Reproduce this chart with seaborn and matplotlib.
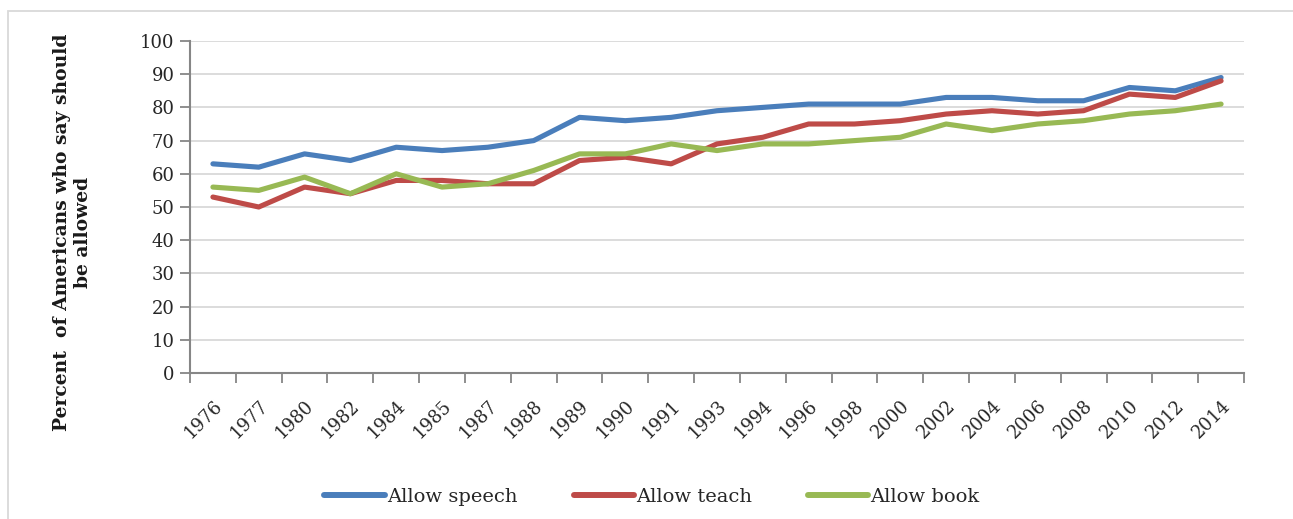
import matplotlib
matplotlib.use("Agg")
import matplotlib.pyplot as plt
from matplotlib.patches import Rectangle
import seaborn as sns
import pandas as pd
import numpy as np

years = ["1976", "1977", "1980", "1982", "1984", "1985", "1987", "1988", "1989", "1990",
         "1991", "1993", "1994", "1996", "1998", "2000", "2002", "2004", "2006", "2008",
         "2010", "2012", "2014"]
allow_speech = [63, 62, 66, 64, 68, 67, 68, 70, 77, 76, 77, 79, 80, 81, 81, 81, 83, 83, 82, 82, 86, 85, 89]
allow_teach = [53, 50, 56, 54, 58, 58, 57, 57, 64, 65, 63, 69, 71, 75, 75, 76, 78, 79, 78, 79, 84, 83, 88]
allow_book = [56, 55, 59, 54, 60, 56, 57, 61, 66, 66, 69, 67, 69, 69, 70, 71, 75, 73, 75, 76, 78, 79, 81]
series_names = ["Allow speech", "Allow teach", "Allow book"]
colors = ["#4A7EBB", "#BE4B48", "#98B954"]
y_ticks = list(range(0, 101, 10))
y_label = "Percent  of Americans who say should\nbe allowed"

sns.set_theme(style="white")
plt.rcParams["font.family"] = ["DejaVu Serif"]

rows = []
for name, vals in zip(series_names, [allow_speech, allow_teach, allow_book]):
    for yr, v in zip(years, vals):
        rows.append({"Year": yr, "Value": v, "Series": name})
df = pd.DataFrame(rows)

fig = plt.figure(figsize=(12.93, 5.19), dpi=100)
ax = fig.add_axes([190 / 1293, 1 - 373 / 519, (1244 - 190) / 1293, (373 - 41) / 519])

sns.lineplot(data=df, x="Year", y="Value", hue="Series", hue_order=series_names,
             palette=colors, linewidth=3.7, ax=ax, legend=True, sort=False)
for ln in ax.lines:
    ln.set_solid_capstyle("round")
    ln.set_solid_joinstyle("round")

n = len(years)
ax.set_xlim(-0.5, n - 0.5)
ax.set_ylim(0, 100)
ax.set_yticks(y_ticks)
ax.set_xticks(np.arange(n))
ax.set_xticklabels(years, rotation=45, ha="right", rotation_mode="anchor")
ax.set_xticks(np.arange(-0.5, n, 1.0), minor=True)

ax.grid(axis="y", color="#D9D9D9", linewidth=1.3)
ax.grid(axis="x", visible=False)
ax.set_axisbelow(True)

for s in ["top", "right"]:
    ax.spines[s].set_visible(False)
for s in ["left", "bottom"]:
    ax.spines[s].set_color("#868686")
    ax.spines[s].set_linewidth(1.5)

ax.tick_params(axis="y", which="major", left=True, length=7, width=1.3, color="#868686",
               labelsize=13, labelcolor="#262626", pad=4)
ax.tick_params(axis="x", which="major", bottom=False, length=0, labelsize=13,
               labelcolor="#262626", pad=17)
ax.tick_params(axis="x", which="minor", bottom=True, length=7, width=1.3, color="#868686")

ax.set_xlabel("")
ax.set_ylabel(y_label, fontsize=13.5, fontweight="bold", color="#1a1a1a",
              linespacing=1.25)
ax.yaxis.set_label_coords((92 - 190) / 1054, (373 - 232) / 332)

handles, labels = ax.get_legend_handles_labels()
ax.get_legend().remove()
leg = fig.legend(handles, labels, loc="center", bbox_to_anchor=(652 / 1293, 1 - 497 / 519),
                 ncol=3, frameon=False, fontsize=14, handlelength=3.1,
                 handletextpad=0.1, columnspacing=2.9)
for h in leg.get_lines():
    h.set_linewidth(4.3)
for t in leg.get_texts():
    t.set_color("#262626")

fig.add_artist(Rectangle((8 / 1293, -0.1), 1.2, 1.1 - 10.5 / 519, fill=False,
                         edgecolor="#D9D9D9", linewidth=1.3, transform=fig.transFigure))

fig.savefig("out.png", dpi=100, facecolor="white")
